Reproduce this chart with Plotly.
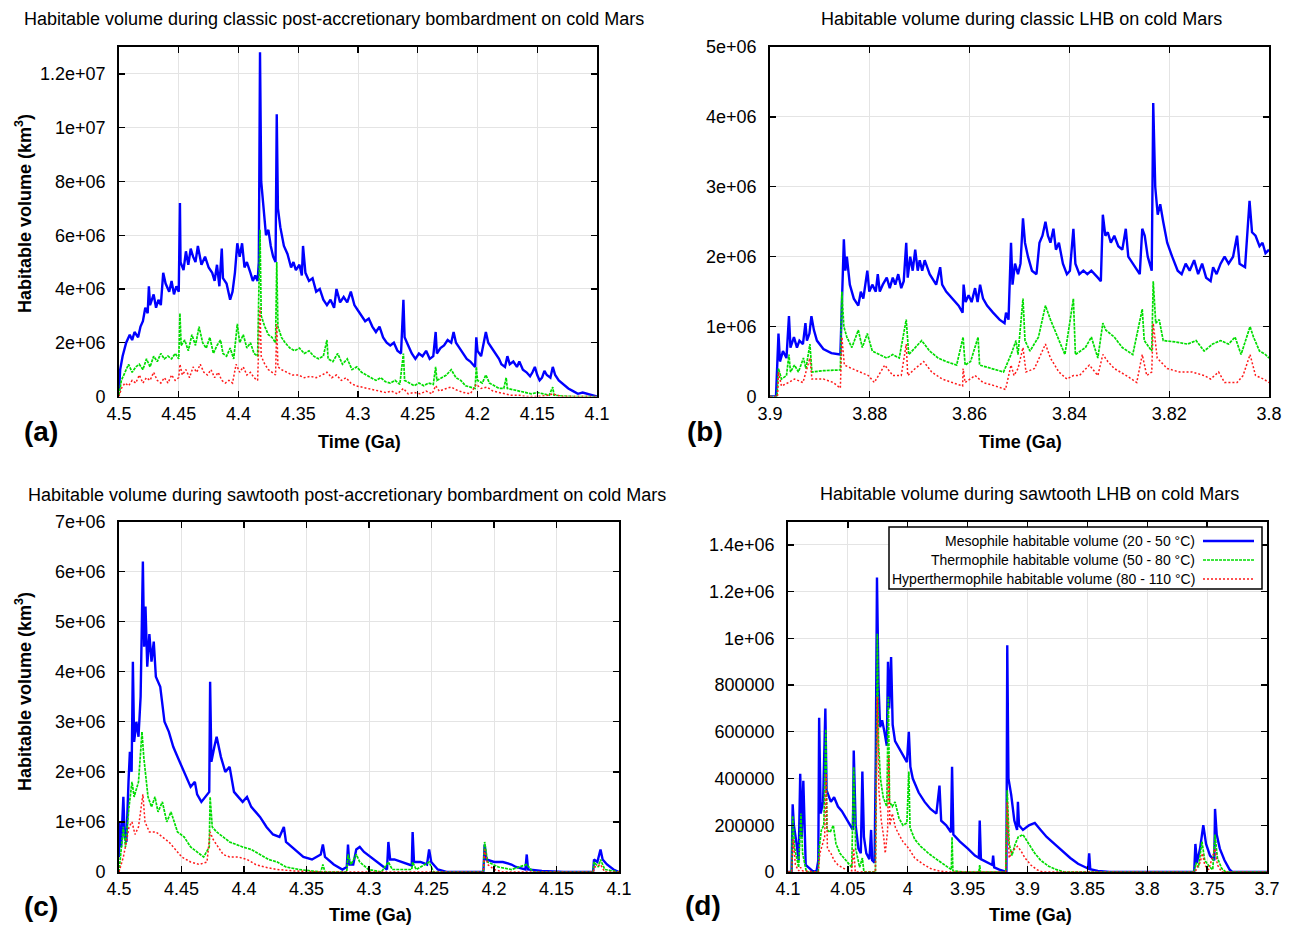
import plotly.graph_objects as go

W, H = 1294, 928          # browser window = figure size (page margin removed below)
FONT = "Liberation Sans, Arial, Helvetica, sans-serif"

# ---------------- Panel (a): classic post-accretionary bombardment (values in 1e6 km3)
a_meso_t = [4.500,4.499,4.497,4.494,4.491,4.489,4.487,4.484,4.482,4.480,4.478,4.476,4.475,4.474,4.471,4.469,4.467,4.465,4.463,4.461,4.458,4.456,4.454,4.452,4.450,4.449,4.4485,4.446,4.444,4.442,4.440,4.438,4.436,4.434,4.431,4.428,4.425,4.422,4.420,4.418,4.416,4.414,4.413,4.410,4.407,4.405,4.403,4.401,4.399,4.397,4.395,4.393,4.390,4.388,4.386,4.384,4.383,4.382,4.381,4.379,4.377,4.375,4.373,4.371,4.369,4.368,4.367,4.365,4.362,4.359,4.356,4.354,4.352,4.349,4.347,4.346,4.344,4.341,4.338,4.335,4.332,4.329,4.326,4.323,4.320,4.318,4.315,4.312,4.309,4.306,4.303,4.300,4.297,4.294,4.291,4.288,4.285,4.282,4.279,4.276,4.273,4.270,4.267,4.264,4.262,4.261,4.258,4.255,4.252,4.249,4.246,4.243,4.240,4.237,4.235,4.234,4.231,4.228,4.225,4.222,4.220,4.218,4.215,4.212,4.209,4.206,4.202,4.201,4.200,4.197,4.195,4.193,4.191,4.188,4.185,4.182,4.180,4.177,4.175,4.173,4.170,4.167,4.165,4.162,4.159,4.156,4.154,4.152,4.150,4.148,4.146,4.144,4.142,4.139,4.137,4.135,4.132,4.128,4.124,4.120,4.116,4.112,4.108,4.104,4.100]
a_meso_v = [0.2,1.0,1.5,2.0,2.3,2.1,2.4,2.2,2.6,2.8,3.3,3.1,4.1,3.4,3.8,3.3,3.6,3.4,4.6,4.2,3.9,4.3,3.8,4.1,3.9,7.2,5.0,4.7,5.4,4.9,5.5,5.2,5.0,5.6,4.9,5.2,4.8,4.6,4.3,4.9,4.1,5.5,4.4,4.2,3.6,3.9,4.6,5.7,5.2,5.7,4.8,5.0,4.6,4.3,4.5,4.3,5.0,12.8,8.0,7.0,6.0,6.2,5.6,5.2,5.0,10.5,7.0,6.3,5.6,5.3,4.8,5.0,4.7,4.9,4.5,5.6,4.6,4.3,4.4,3.9,4.0,3.6,3.4,3.6,3.3,4.0,3.5,3.7,3.5,3.9,3.4,3.2,3.0,2.8,2.9,2.6,2.4,2.6,2.2,2.0,1.9,2.0,1.7,1.6,3.6,2.2,1.9,1.6,1.4,1.6,1.5,1.7,1.4,1.5,2.4,1.6,1.8,1.9,2.1,2.0,2.4,2.0,1.8,1.6,1.4,1.3,1.1,2.2,1.7,1.5,2.0,2.4,2.0,1.8,1.6,1.4,1.2,1.1,1.5,1.2,1.3,1.1,1.3,1.0,0.9,0.75,0.9,1.1,0.8,0.6,0.7,0.95,0.8,0.7,1.1,0.8,0.6,0.45,0.3,0.2,0.1,0.15,0.1,0.05,0.0]

a_thermo_t = [4.500,4.498,4.495,4.492,4.489,4.486,4.483,4.480,4.477,4.474,4.471,4.468,4.465,4.462,4.459,4.456,4.453,4.450,4.449,4.448,4.445,4.442,4.439,4.436,4.433,4.430,4.427,4.424,4.421,4.418,4.415,4.413,4.410,4.407,4.404,4.401,4.399,4.396,4.393,4.390,4.387,4.384,4.382,4.381,4.378,4.375,4.372,4.369,4.368,4.367,4.364,4.361,4.357,4.353,4.349,4.345,4.341,4.337,4.333,4.329,4.326,4.325,4.321,4.317,4.313,4.309,4.305,4.301,4.297,4.293,4.289,4.285,4.281,4.277,4.273,4.269,4.265,4.262,4.261,4.257,4.253,4.249,4.245,4.241,4.237,4.235,4.234,4.230,4.226,4.222,4.218,4.214,4.210,4.206,4.202,4.201,4.200,4.196,4.193,4.190,4.186,4.182,4.178,4.176,4.175,4.170,4.165,4.160,4.155,4.150,4.145,4.140,4.137,4.136,4.130,4.120,4.100]
a_thermo_v = [0.05,0.6,0.9,1.2,0.9,1.1,1.2,1.0,1.4,1.1,1.5,1.3,1.6,1.4,1.5,1.4,1.6,1.4,3.1,1.9,2.1,1.7,2.3,1.9,2.6,2.0,1.8,2.2,1.6,1.9,2.1,1.6,1.5,1.8,1.4,2.7,2.0,2.3,1.8,2.0,1.6,1.5,6.2,3.0,2.6,2.3,2.2,2.0,5.0,2.6,2.2,2.0,1.8,1.7,1.8,1.6,1.7,1.5,1.4,1.5,2.1,1.4,1.3,1.6,1.2,1.4,1.0,1.1,0.9,0.8,0.7,0.6,0.7,0.55,0.5,0.6,0.45,1.6,0.6,0.5,0.4,0.5,0.4,0.5,0.45,1.1,0.6,0.7,0.8,1.0,0.7,0.6,0.4,0.35,0.3,1.1,0.6,0.5,0.8,0.5,0.4,0.3,0.3,0.7,0.3,0.25,0.2,0.15,0.1,0.15,0.1,0.05,0.35,0.05,0.02,0.0,0.0]

a_hyper_t = [4.500,4.498,4.495,4.492,4.489,4.486,4.483,4.480,4.477,4.474,4.471,4.468,4.465,4.462,4.459,4.456,4.453,4.450,4.449,4.447,4.444,4.441,4.438,4.435,4.432,4.429,4.426,4.423,4.420,4.417,4.414,4.411,4.408,4.405,4.402,4.399,4.396,4.393,4.390,4.387,4.384,4.382,4.381,4.378,4.375,4.372,4.369,4.368,4.367,4.364,4.360,4.355,4.350,4.345,4.340,4.335,4.330,4.326,4.322,4.318,4.314,4.310,4.306,4.302,4.297,4.292,4.287,4.282,4.277,4.272,4.267,4.262,4.258,4.253,4.248,4.243,4.238,4.235,4.232,4.226,4.222,4.218,4.212,4.206,4.201,4.197,4.192,4.187,4.182,4.177,4.172,4.165,4.160,4.150,4.140,4.137,4.130,4.100]
a_hyper_v = [0.0,0.3,0.5,0.4,0.6,0.5,0.8,0.5,0.7,0.6,0.9,0.6,0.5,0.7,0.5,0.8,0.6,0.7,1.2,0.8,1.0,0.7,1.1,0.9,1.2,0.9,0.8,1.0,0.7,0.9,0.6,0.5,0.6,0.5,1.2,0.9,1.1,0.8,0.9,0.7,0.6,3.3,1.5,1.2,1.0,0.9,0.8,2.7,1.1,1.0,0.9,0.8,0.8,0.7,0.75,0.7,0.8,0.9,0.7,0.8,0.6,0.7,0.5,0.4,0.35,0.3,0.25,0.2,0.15,0.2,0.1,0.3,0.1,0.15,0.1,0.2,0.1,0.4,0.2,0.3,0.35,0.25,0.15,0.1,0.45,0.3,0.35,0.2,0.15,0.1,0.05,0.05,0.0,0.0,0.05,0.1,0.0,0.0]

# ---------------- Panel (b): classic LHB (values in 1e6 km3)
b_meso_t = [3.9000,3.8988,3.8983,3.8980,3.8974,3.8967,3.8962,3.8959,3.8952,3.8946,3.8941,3.8934,3.8929,3.8926,3.8921,3.8917,3.8912,3.8906,3.8893,3.8877,3.8859,3.8856,3.8852,3.8849,3.8846,3.8840,3.8832,3.8823,3.8818,3.8813,3.8805,3.8801,3.8795,3.8788,3.8784,3.8780,3.8774,3.8766,3.8760,3.8754,3.8749,3.8743,3.8737,3.8732,3.8727,3.8724,3.8719,3.8714,3.8709,3.8704,3.8700,3.8695,3.8690,3.8680,3.8667,3.8659,3.8655,3.8647,3.8635,3.8622,3.8614,3.8612,3.8608,3.8602,3.8596,3.8589,3.8584,3.8579,3.8573,3.8565,3.8553,3.8540,3.8530,3.8527,3.8522,3.8517,3.8514,3.8509,3.8503,3.8498,3.8493,3.8489,3.8483,3.8475,3.8466,3.8460,3.8454,3.8448,3.8443,3.8438,3.8432,3.8427,3.8421,3.8413,3.8405,3.8399,3.8392,3.8388,3.8380,3.8372,3.8364,3.8356,3.8343,3.8337,3.8333,3.8328,3.8323,3.8317,3.8310,3.8302,3.8294,3.8287,3.8282,3.8273,3.8265,3.8259,3.8254,3.8249,3.8243,3.8235,3.8232,3.8228,3.8223,3.8218,3.8212,3.8204,3.8194,3.8183,3.8175,3.8167,3.8159,3.8150,3.8142,3.8134,3.8126,3.8117,3.8112,3.8105,3.8097,3.8089,3.8081,3.8072,3.8064,3.8059,3.8048,3.8039,3.8034,3.8027,3.8019,3.8013,3.8007,3.8000]
b_meso_v = [0.0,0.0,0.9,0.5,0.65,0.55,1.15,0.7,0.85,0.7,0.8,0.75,1.05,0.8,0.9,1.15,0.95,0.8,0.68,0.62,0.6,1.3,2.25,1.8,2.0,1.6,1.4,1.3,1.5,1.4,1.8,1.5,1.6,1.5,1.75,1.5,1.6,1.7,1.55,1.7,1.6,1.75,1.55,1.65,2.2,1.7,2.0,1.8,2.1,1.8,1.95,1.8,1.95,1.75,1.6,1.85,1.6,1.5,1.4,1.3,1.2,1.6,1.35,1.45,1.35,1.55,1.35,1.6,1.4,1.3,1.2,1.1,1.05,1.2,1.1,2.2,1.6,1.9,1.75,1.9,2.55,2.2,2.0,1.8,1.75,2.2,2.3,2.5,2.3,2.2,2.4,2.1,2.2,1.9,1.75,1.8,2.4,1.9,1.75,1.8,1.75,1.8,1.7,1.65,2.6,2.3,2.35,2.2,2.3,2.15,2.1,2.4,2.0,1.9,1.8,1.75,2.4,2.3,2.0,1.8,4.2,3.0,2.6,2.75,2.5,2.2,2.0,1.8,1.75,1.9,1.8,1.95,1.75,1.9,1.7,1.65,1.85,1.75,1.9,2.0,1.9,2.0,2.3,1.9,1.85,2.8,2.35,2.3,2.15,2.2,2.05,2.1]

b_thermo_t = [3.9000,3.8986,3.8983,3.8977,3.8967,3.8962,3.8959,3.8951,3.8943,3.8933,3.8928,3.8920,3.8916,3.8893,3.8859,3.8856,3.8852,3.8846,3.8836,3.8823,3.8815,3.8805,3.8795,3.8780,3.8766,3.8754,3.8741,3.8727,3.8722,3.8709,3.8696,3.8680,3.8663,3.8647,3.8626,3.8613,3.8609,3.8598,3.8583,3.8580,3.8557,3.8532,3.8517,3.8507,3.8503,3.8493,3.8489,3.8479,3.8462,3.8448,3.8438,3.8421,3.8409,3.8392,3.8388,3.8368,3.8356,3.8343,3.8333,3.8327,3.8310,3.8294,3.8273,3.8254,3.8250,3.8235,3.8232,3.8227,3.8220,3.8212,3.8187,3.8163,3.8146,3.8130,3.8113,3.8097,3.8081,3.8068,3.8056,3.8038,3.8031,3.8019,3.8007,3.8000]
b_thermo_v = [0.0,0.0,0.4,0.25,0.3,0.6,0.35,0.45,0.35,0.55,0.4,0.75,0.35,0.37,0.38,1.5,1.0,0.85,0.7,0.95,0.7,0.9,0.65,0.6,0.55,0.6,0.55,1.1,0.6,0.7,0.8,0.65,0.55,0.5,0.45,0.85,0.45,0.5,0.85,0.45,0.4,0.35,0.6,0.8,0.6,1.4,0.8,0.65,0.85,1.3,1.1,0.8,0.6,1.4,0.6,0.7,0.85,0.55,1.05,0.95,0.85,0.7,0.6,1.25,0.8,0.65,1.65,1.05,1.1,0.8,0.78,0.75,0.8,0.65,0.75,0.8,0.75,0.85,0.6,1.0,0.85,0.65,0.6,0.55]

b_hyper_t = [3.9000,3.8985,3.8983,3.8977,3.8963,3.8951,3.8934,3.8920,3.8916,3.8893,3.8873,3.8859,3.8856,3.8851,3.8836,3.8819,3.8803,3.8791,3.8770,3.8754,3.8737,3.8727,3.8724,3.8709,3.8692,3.8676,3.8655,3.8635,3.8614,3.8613,3.8609,3.8589,3.8573,3.8548,3.8528,3.8517,3.8511,3.8503,3.8493,3.8487,3.8470,3.8448,3.8438,3.8421,3.8405,3.8392,3.8380,3.8360,3.8343,3.8333,3.8323,3.8310,3.8286,3.8265,3.8254,3.8245,3.8235,3.8232,3.8224,3.8204,3.8179,3.8154,3.8130,3.8117,3.8101,3.8089,3.8064,3.8052,3.8038,3.8027,3.8011,3.8000]
b_hyper_v = [0.0,0.0,0.35,0.15,0.2,0.25,0.2,0.55,0.25,0.25,0.2,0.12,0.85,0.45,0.4,0.35,0.3,0.2,0.45,0.3,0.3,0.75,0.3,0.4,0.5,0.35,0.25,0.2,0.15,0.4,0.2,0.3,0.2,0.15,0.1,0.45,0.3,0.4,0.7,0.35,0.4,0.75,0.55,0.35,0.25,0.3,0.3,0.45,0.3,0.6,0.5,0.4,0.3,0.2,0.6,0.3,0.35,1.05,0.55,0.4,0.35,0.35,0.3,0.25,0.35,0.2,0.2,0.3,0.6,0.3,0.25,0.2]

# ---------------- Panel (c): sawtooth post-accretionary bombardment (values in 1e6 km3)
c_meso_t = [4.5000,4.4997,4.4983,4.4965,4.4955,4.4941,4.4924,4.4913,4.4899,4.4889,4.4879,4.4861,4.4844,4.4827,4.4809,4.4799,4.4788,4.4774,4.4757,4.4740,4.4722,4.4705,4.4670,4.4636,4.4601,4.4566,4.4532,4.4497,4.4462,4.4427,4.4393,4.4375,4.4341,4.4306,4.4278,4.4271,4.4261,4.4237,4.4219,4.4185,4.4150,4.4115,4.4080,4.4046,4.4011,4.3976,4.3942,4.3907,4.3872,4.3820,4.3768,4.3716,4.3681,4.3664,4.3595,4.3525,4.3456,4.3386,4.3369,4.3352,4.3282,4.3213,4.3178,4.3168,4.3157,4.3126,4.3102,4.3074,4.3040,4.2987,4.2935,4.2883,4.2856,4.2845,4.2831,4.2797,4.2745,4.2692,4.2658,4.2651,4.2640,4.2588,4.2536,4.2519,4.2502,4.2450,4.2380,4.2085,4.2075,4.2061,4.1999,4.1929,4.1860,4.1825,4.1749,4.1738,4.1728,4.1617,4.1443,4.1207,4.1200,4.1173,4.1148,4.1131,4.1096,4.1044,4.1000]
c_meso_v = [0.3,1.0,0.5,1.5,0.7,0.6,1.8,2.4,2.0,4.2,2.6,3.0,2.7,3.5,6.2,4.5,5.3,4.1,4.75,4.2,4.6,3.9,3.7,3.0,2.8,2.5,2.3,2.1,1.9,1.7,1.8,1.55,1.4,1.5,1.6,3.8,2.2,2.5,2.7,2.3,2.0,2.1,1.6,1.5,1.4,1.5,1.3,1.2,1.1,0.9,0.75,0.7,0.9,0.6,0.45,0.3,0.25,0.35,0.55,0.3,0.15,0.05,0.1,0.55,0.15,0.15,0.45,0.5,0.4,0.3,0.2,0.1,0.05,0.6,0.25,0.25,0.2,0.15,0.13,0.8,0.2,0.2,0.15,0.45,0.2,0.05,0.0,0.0,0.55,0.25,0.2,0.2,0.15,0.1,0.05,0.35,0.05,0.02,0.0,0.0,0.25,0.2,0.45,0.25,0.15,0.05,0.0]

c_thermo_t = [4.5000,4.4983,4.4965,4.4948,4.4920,4.4896,4.4879,4.4844,4.4816,4.4802,4.4788,4.4768,4.4740,4.4712,4.4688,4.4653,4.4618,4.4584,4.4532,4.4479,4.4427,4.4375,4.4323,4.4278,4.4271,4.4254,4.4219,4.4167,4.4115,4.4063,4.4011,4.3942,4.3872,4.3803,4.3734,4.3664,4.3560,4.3386,4.3369,4.3352,4.3178,4.3168,4.3144,4.3102,4.3074,4.3005,4.2901,4.2845,4.2814,4.2658,4.2651,4.2623,4.2519,4.2484,4.2085,4.2075,4.2051,4.1964,4.1860,4.1738,4.1686,4.1207,4.1200,4.1165,4.1148,4.1114,4.1000]
c_thermo_v = [0.0,0.4,0.9,0.5,1.3,1.8,1.5,1.8,2.8,2.3,1.9,1.5,1.3,1.5,1.2,1.4,1.0,1.2,0.8,0.7,0.5,0.4,0.3,0.5,1.5,0.9,0.8,0.7,0.6,0.55,0.5,0.45,0.35,0.25,0.2,0.1,0.05,0.0,0.15,0.0,0.0,0.35,0.15,0.35,0.2,0.05,0.0,0.2,0.05,0.05,0.2,0.05,0.2,0.0,0.0,0.6,0.2,0.1,0.05,0.15,0.0,0.0,0.2,0.1,0.25,0.05,0.0]

c_hyper_t = [4.5000,4.4965,4.4941,4.4920,4.4896,4.4872,4.4844,4.4809,4.4792,4.4757,4.4705,4.4653,4.4601,4.4549,4.4497,4.4427,4.4358,4.4296,4.4271,4.4247,4.4219,4.4167,4.4115,4.4046,4.3976,4.3907,4.3838,4.3734,4.3595,4.3386,4.2085,4.2075,4.2051,4.1999,4.1929,4.1207,4.1193,4.1148,4.1114,4.1000]
c_hyper_v = [0.0,0.3,0.6,0.9,1.0,0.75,0.9,1.55,1.0,0.8,0.8,0.7,0.6,0.45,0.3,0.2,0.15,0.2,0.8,0.65,0.55,0.35,0.3,0.3,0.25,0.15,0.1,0.05,0.02,0.0,0.0,0.45,0.15,0.05,0.0,0.0,0.1,0.15,0.0,0.0]

# ---------------- Panel (d): sawtooth LHB (values in 1e5 km3)
d_meso_t = [4.1000,4.0970,4.0961,4.0951,4.0928,4.0911,4.0898,4.0885,4.0872,4.0862,4.0852,4.0829,4.0796,4.0763,4.0747,4.0740,4.0727,4.0707,4.0688,4.0678,4.0665,4.0642,4.0615,4.0583,4.0550,4.0517,4.0484,4.0458,4.0451,4.0435,4.0412,4.0392,4.0379,4.0366,4.0346,4.0320,4.0306,4.0297,4.0277,4.0267,4.0257,4.0244,4.0231,4.0214,4.0195,4.0175,4.0165,4.0155,4.0139,4.0126,4.0106,4.0073,4.0040,4.0007,3.9991,3.9978,3.9958,3.9909,3.9859,3.9810,3.9761,3.9735,3.9721,3.9679,3.9639,3.9630,3.9619,3.9564,3.9498,3.9439,3.9406,3.9399,3.9389,3.9333,3.9294,3.9287,3.9278,3.9235,3.9176,3.9169,3.9159,3.9136,3.9110,3.9087,3.9080,3.9071,3.9038,3.8988,3.8939,3.8890,3.8840,3.8775,3.8709,3.8643,3.8578,3.8495,3.8485,3.8476,3.8413,3.8314,3.7608,3.7598,3.7585,3.7559,3.7532,3.7509,3.7476,3.7440,3.7434,3.7420,3.7394,3.7355,3.7312,3.7289,3.7000]
d_meso_v = [0,0,2.9,2.0,1.2,0.5,4.2,1.5,3.9,2.0,0.3,0.2,0.05,0.0,0.5,6.6,2.5,3.0,7.0,3.5,3.3,3.0,3.2,2.8,2.6,2.3,2.0,1.8,5.2,2.0,1.0,0.8,4.3,1.5,0.8,0.55,1.8,0.5,0.4,5.0,12.6,8.0,6.2,6.5,6.0,5.4,9.0,7.0,9.2,6.3,5.6,5.3,5.0,4.7,6.0,4.5,4.0,3.4,3.0,2.7,2.5,3.7,2.2,2.0,1.7,4.5,1.6,1.3,1.0,0.7,0.6,2.2,0.55,0.4,0.3,0.7,0.2,0.1,0.0,9.7,4.0,3.3,2.2,1.8,3.0,2.0,1.8,2.0,2.1,1.8,1.5,1.2,0.9,0.6,0.35,0.15,0.8,0.12,0.05,0.0,0.0,1.2,0.4,1.0,2.0,1.2,0.7,0.5,2.7,1.6,1.0,0.5,0.1,0.0,0.0]

d_thermo_t = [4.1000,4.0970,4.0961,4.0944,4.0911,4.0892,4.0878,4.0862,4.0846,4.0747,4.0740,4.0721,4.0701,4.0684,4.0675,4.0648,4.0622,4.0599,4.0566,4.0517,4.0468,4.0451,4.0435,4.0402,4.0379,4.0366,4.0270,4.0260,4.0254,4.0244,4.0228,4.0205,4.0175,4.0162,4.0152,4.0129,4.0106,4.0073,4.0040,4.0007,3.9991,3.9981,3.9942,3.9892,3.9827,3.9761,3.9695,3.9636,3.9630,3.9623,3.9531,3.9406,3.9399,3.9393,3.9182,3.9169,3.9153,3.9130,3.9103,3.9077,3.9038,3.8988,3.8939,3.8890,3.8824,3.8758,3.8693,3.7608,3.7592,3.7572,3.7543,3.7520,3.7476,3.7453,3.7434,3.7414,3.7378,3.7345,3.7000]
d_thermo_v = [0,0,2.4,1.0,0.2,2.5,0.8,0.3,0.0,0.0,1.0,1.8,2.0,6.1,1.8,1.7,2.0,1.2,0.8,0.5,0.2,4.5,1.0,0.2,0.6,0.0,0.0,6.0,10.2,5.5,4.0,3.2,2.8,7.5,3.0,2.8,3.0,2.3,2.0,2.1,4.3,1.9,1.4,1.1,0.8,0.55,0.3,0.1,1.5,0.05,0.0,0.0,0.3,0.0,0.0,3.5,1.2,0.7,1.2,1.5,1.6,1.2,0.8,0.5,0.25,0.1,0.0,0.0,0.4,0.2,1.3,0.5,0.2,0.1,1.6,0.6,0.15,0.0,0.0]

d_hyper_t = [4.1000,4.0970,4.0957,4.0938,4.0911,4.0895,4.0878,4.0747,4.0734,4.0714,4.0694,4.0681,4.0671,4.0642,4.0615,4.0583,4.0533,4.0468,4.0451,4.0438,4.0270,4.0254,4.0241,4.0221,4.0201,4.0188,4.0168,4.0159,4.0149,4.0129,4.0103,4.0073,4.0040,3.9991,3.9942,3.9876,3.9810,3.9744,3.9662,3.9182,3.9169,3.9153,3.9130,3.9103,3.9084,3.9054,3.9021,3.8972,3.8923,3.8873,3.7598,3.7585,3.7559,3.7539,3.7520,3.7487,3.7434,3.7414,3.7378,3.7000]
d_hyper_v = [0,0,1.4,0.3,0.05,0.2,0.05,0.0,0.8,1.2,1.5,4.2,1.0,0.8,0.5,0.3,0.15,0.05,1.0,0.0,0.0,7.5,3.5,2.2,1.5,0.8,1.8,5.0,2.0,2.5,1.9,1.6,1.3,1.0,0.6,0.35,0.15,0.05,0.0,0.0,3.0,0.6,0.9,1.0,1.1,0.9,0.6,0.3,0.1,0.0,0.0,0.2,0.4,0.8,0.3,0.1,1.0,0.3,0.0,0.0]

# ---------------- Axis ticks and texts
time_ticks_ab = [4.5, 4.45, 4.4, 4.35, 4.3, 4.25, 4.2, 4.15, 4.1]
time_labels_ab = ["4.5", "4.45", "4.4", "4.35", "4.3", "4.25", "4.2", "4.15", "4.1"]
time_ticks_b = [3.9, 3.88, 3.86, 3.84, 3.82, 3.8]
time_labels_b = ["3.9", "3.88", "3.86", "3.84", "3.82", "3.8"]
time_ticks_d = [4.1, 4.05, 4.0, 3.95, 3.9, 3.85, 3.8, 3.75, 3.7]
time_labels_d = ["4.1", "4.05", "4", "3.95", "3.9", "3.85", "3.8", "3.75", "3.7"]

vol_ticks_a = [0, 2e6, 4e6, 6e6, 8e6, 1e7, 1.2e7]
vol_labels_a = ["0", "2e+06", "4e+06", "6e+06", "8e+06", "1e+07", "1.2e+07"]
vol_ticks_b = [0, 1e6, 2e6, 3e6, 4e6, 5e6]
vol_labels_b = ["0", "1e+06", "2e+06", "3e+06", "4e+06", "5e+06"]
vol_ticks_c = [0, 1e6, 2e6, 3e6, 4e6, 5e6, 6e6, 7e6]
vol_labels_c = ["0", "1e+06", "2e+06", "3e+06", "4e+06", "5e+06", "6e+06", "7e+06"]
vol_ticks_d = [0, 2e5, 4e5, 6e5, 8e5, 1e6, 1.2e6, 1.4e6]
vol_labels_d = ["0", "200000", "400000", "600000", "800000", "1e+06", "1.2e+06", "1.4e+06"]

titles = [
    "Habitable volume during classic post-accretionary bombardment on cold Mars",
    "Habitable volume during classic LHB on cold Mars",
    "Habitable volume during sawtooth post-accretionary bombardment on cold Mars",
    "Habitable volume during sawtooth LHB on cold Mars",
]
panel_labels = ["(a)", "(b)", "(c)", "(d)"]
series_names = [
    "Mesophile habitable volume (20 - 50 °C)",
    "Thermophile habitable volume (50 - 80 °C)",
    "Hyperthermophile habitable volume (80 - 110 °C)",
]

MEGA = 1e6
HUNDRED_K = 1e5

COLORS = ["#0000ff", "#00dd00", "#ff1a1a"]
DASHES = ["solid", "3px,1px", "2px,2px"]
WIDTHS = [2.4, 1.7, 1.5]

fig = go.Figure()

panels = [
    ("x", "y", [(a_meso_t, a_meso_v), (a_thermo_t, a_thermo_v), (a_hyper_t, a_hyper_v)], MEGA),
    ("x2", "y2", [(b_meso_t, b_meso_v), (b_thermo_t, b_thermo_v), (b_hyper_t, b_hyper_v)], MEGA),
    ("x3", "y3", [(c_meso_t, c_meso_v), (c_thermo_t, c_thermo_v), (c_hyper_t, c_hyper_v)], MEGA),
    ("x4", "y4", [(d_meso_t, d_meso_v), (d_thermo_t, d_thermo_v), (d_hyper_t, d_hyper_v)], HUNDRED_K),
]
for xa, ya, series, unit in panels:
    for i, (t, v) in enumerate(series):
        fig.add_trace(go.Scatter(
            x=t, y=[val * unit for val in v], xaxis=xa, yaxis=ya, mode="lines",
            name=series_names[i], showlegend=False,
            line=dict(color=COLORS[i], width=WIDTHS[i], dash=DASHES[i]),
        ))

# window pixel -> paper fraction
def px_x(p):
    return p / W

def px_y(p):
    return 1 - p / H

tickfont = dict(family=FONT, size=18, color="black")

def common_axis():
    return dict(showline=True, linecolor="black", linewidth=1.8, mirror="ticks",
                ticks="inside", ticklen=6, tickwidth=1.3, tickcolor="black",
                showgrid=True, gridcolor="#e4e4e4", gridwidth=1, zeroline=False,
                tickfont=tickfont, fixedrange=True, automargin=False)

def xaxis(domain, rng, vals, labels, anchor):
    d = common_axis()
    d.update(domain=domain, range=rng, tickvals=vals, ticktext=labels, anchor=anchor,
             ticklabelstandoff=0)
    return d

def yaxis(domain, rng, vals, labels, anchor):
    d = common_axis()
    d.update(domain=domain, range=rng, tickvals=vals, ticktext=labels, anchor=anchor,
             ticklabelstandoff=8)
    return d

dom_a_x = [px_x(119), px_x(597)]
dom_b_x = [px_x(770), px_x(1269)]
dom_c_x = [px_x(119), px_x(619)]
dom_d_x = [px_x(788), px_x(1267)]
dom_top_y = [px_y(396.5), px_y(47)]
dom_bot_y = [px_y(872), px_y(521.5)]

fig.update_layout(
    width=W, height=H, margin=dict(l=0, r=0, t=0, b=0, pad=0, autoexpand=False),
    autosize=False,
    paper_bgcolor="white", plot_bgcolor="white", showlegend=False,
    font=dict(family=FONT, color="black"),
    xaxis=xaxis(dom_a_x, [4.5, 4.1], time_ticks_ab, time_labels_ab, "y"),
    yaxis=yaxis(dom_top_y, [0, 1.3e7], vol_ticks_a, vol_labels_a, "x"),
    xaxis2=xaxis(dom_b_x, [3.9, 3.8], time_ticks_b, time_labels_b, "y2"),
    yaxis2=yaxis(dom_top_y, [0, 5e6], vol_ticks_b, vol_labels_b, "x2"),
    xaxis3=xaxis(dom_c_x, [4.5, 4.1], time_ticks_ab, time_labels_ab, "y3"),
    yaxis3=yaxis(dom_bot_y, [0, 7e6], vol_ticks_c, vol_labels_c, "x3"),
    xaxis4=xaxis(dom_d_x, [4.1, 3.7], time_ticks_d, time_labels_d, "y4"),
    yaxis4=yaxis(dom_bot_y, [0, 1.5e6], vol_ticks_d, vol_labels_d, "x4"),
)

ann = []
title_pos = [(334, 19), (1021, 19), (347, 495), (1029, 494)]
for txt, (x, y) in zip(titles, title_pos):
    ann.append(dict(text=txt, x=px_x(x), y=px_y(y), xref="paper", yref="paper",
                    xanchor="center", yanchor="middle", showarrow=False,
                    font=dict(family=FONT, size=18, color="black")))
label_pos = [(41, 432), (705, 432), (41, 906), (703, 905)]
for txt, (x, y) in zip(panel_labels, label_pos):
    ann.append(dict(text="<b>%s</b>" % txt, x=px_x(x), y=px_y(y), xref="paper", yref="paper",
                    xanchor="center", yanchor="middle", showarrow=False,
                    font=dict(family=FONT, size=28, color="black")))
time_pos = [(359, 442), (1020, 442), (370, 915), (1030, 915)]
for (x, y) in time_pos:
    ann.append(dict(text="<b>Time (Ga)</b>", x=px_x(x), y=px_y(y), xref="paper", yref="paper",
                    xanchor="center", yanchor="middle", showarrow=False,
                    font=dict(family=FONT, size=18, color="black")))
for (x, y) in [(23, 214), (23, 692)]:
    ann.append(dict(text="<b>Habitable volume (km<sup>3</sup>)</b>", x=px_x(x), y=px_y(y),
                    xref="paper", yref="paper", xanchor="center", yanchor="middle",
                    textangle=-90, showarrow=False,
                    font=dict(family=FONT, size=18, color="black")))

# legend box in panel (d)
shapes = [dict(type="rect", xref="paper", yref="paper", x0=px_x(889), x1=px_x(1262),
               y0=px_y(589), y1=px_y(527), line=dict(color="black", width=1.5),
               fillcolor="white", layer="above")]
row_y = [541, 560, 579]
for i, name in enumerate(series_names):
    ann.append(dict(text=name, x=px_x(1197), y=px_y(row_y[i]), xref="paper", yref="paper",
                    xanchor="right", yanchor="middle", showarrow=False,
                    font=dict(family=FONT, size=14, color="black")))
    shapes.append(dict(type="line", xref="paper", yref="paper", x0=px_x(1203), x1=px_x(1254),
                       y0=px_y(row_y[i]), y1=px_y(row_y[i]), layer="above",
                       line=dict(color=COLORS[i], width=WIDTHS[i], dash=DASHES[i])))

fig.update_layout(annotations=ann, shapes=shapes)

fig.write_html(
    "out.html",
    config={"displayModeBar": False, "staticPlot": True},
    post_script="document.documentElement.style.margin='0';"
                "document.body.style.margin='0';document.body.style.padding='0';"
                "document.body.style.overflow='hidden';",
)
